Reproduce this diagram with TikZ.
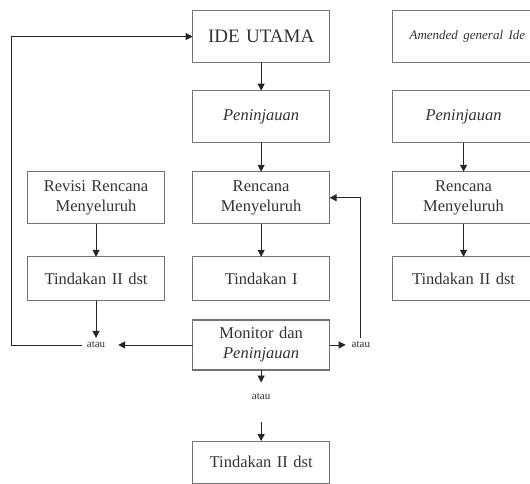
\documentclass[tikz,border=0pt]{standalone}
\usepackage{fontspec}
\setmainfont{Liberation Serif}
\usetikzlibrary{arrows.meta}
\usetikzlibrary{matrix}
\colorlet{boxgray}{black!55}
\colorlet{txtgray}{black!80}
\newcommand\pnj{\textit{Peninjauan}}
\newcommand\amend{\makebox[134pt][l]{\hspace{13pt}\fontsize{13}{16}\selectfont\itshape Amended general Ide}}
\tikzstyle{bx}=[draw=boxgray,line width=1.1pt,inner sep=4pt,text width=129pt,align=center,text=txtgray,font=\fontsize{16.5}{20}\selectfont]
\tikzstyle{bxw}=[bx,text width=134pt]
\tikzstyle{atau}=[inner sep=2pt,minimum height=14pt,minimum width=21pt,text=txtgray,font=\fontsize{11}{13}\selectfont]
\tikzstyle{arhead}=[>/.tip={Triangle[length=7pt,width=7pt]}]
\tikzstyle{ar}=[line width=.9pt,draw=black!85,arhead,->]

\begin{document}
\begin{tikzpicture}[x=1pt,y=1pt]
	\useasboundingbox (0,0) rectangle (530,-484);
	\clip (0,0) rectangle (530,-484);
	\matrix (m) [matrix of nodes, inner sep=0pt, outer sep=0pt, row sep=0pt, column sep=0pt,
	  nodes={anchor=center}, anchor=north west] at (27,-10) {
	  &[27pt] |[bx,minimum height=52pt,font=\fontsize{19}{22}\selectfont]| IDE UTAMA &[19.5pt] &[20pt] |[bxw,minimum height=52pt]| \amend \\[27pt]
	  & |[bx,minimum height=52pt]| \pnj & & |[bxw,minimum height=52pt]| \pnj \\[28pt]
	  |[bx,minimum height=52pt]| Revisi Rencana Menyeluruh & |[bx,minimum height=52pt]| Rencana Menyeluruh & & |[bxw,minimum height=52pt]| Rencana Menyeluruh \\[32pt]
	  |[bx,minimum height=44pt]| Tindakan II dst & |[bx,minimum height=44pt]| Tindakan I & & |[bxw,minimum height=44pt]| Tindakan II dst \\[18pt]
	  |[atau]| atau & |[bx,minimum height=50pt]| Monitor dan \pnj & |[atau]| atau & \\[19pt]
	  & |[atau]| atau & & \\[37pt]
	  & |[bx,minimum height=42pt]| Tindakan II dst & & \\
	};
	\draw[ar] (m-1-2) -- (m-2-2);
	\draw[ar] (m-2-2) -- (m-3-2);
	\draw[ar] (m-3-2) -- (m-4-2);
	\draw[ar] (m-2-4) -- (m-3-4);
	\draw[ar] (m-3-4) -- (m-4-4);
	\draw[ar] (m-3-1) -- (m-4-1);
	\draw[ar] (m-4-1) -- (m-5-1);
	\draw[ar,shorten >=11pt] (m-5-2) -- (m-5-1);
	\draw[ar,shorten <=3pt] (m-5-1.west) -- ++(-73pt,0) |- (m-1-2.west);
	\draw[ar,shorten >=4pt] (m-5-2) -- (m-5-3);
	\draw[ar] (m-5-3.north) |- (m-3-2.east);
	\draw[ar,shorten >=7pt] (m-5-2) -- (m-6-2);
	\draw[ar,shorten <=18pt] (m-6-2) -- (m-7-2);
\end{tikzpicture}
\end{document}
